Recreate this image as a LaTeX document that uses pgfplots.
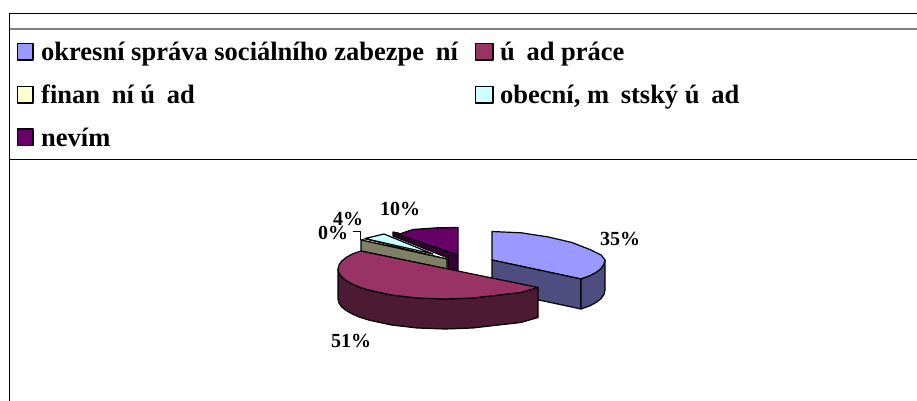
\documentclass[border=0pt]{standalone}
\usepackage{fontspec}
\setmainfont{Liberation Serif}
\usepackage{pgfplots}
\pgfplotsset{compat=1.18}
\definecolor{cBlue}{HTML}{9999FF}\definecolor{cBlueS}{HTML}{4D4D80}
\definecolor{cMar}{HTML}{993366}\definecolor{cMarS}{HTML}{4D1A33}
\definecolor{cYel}{HTML}{FFFFCC}\definecolor{cYelS}{HTML}{808066}
\definecolor{cCya}{HTML}{CCFFFF}
\definecolor{cPur}{HTML}{660066}\definecolor{cPurS}{HTML}{330033}
\newcommand{\leg}[1]{{\fontsize{26.5}{30}\selectfont\bfseries #1}}
\newcommand{\lab}[1]{{\fontsize{20}{24}\selectfont\bfseries #1}}
\begin{document}
\begin{tikzpicture}
\begin{axis}[scale only axis,width=917pt,height=401pt,xmin=0,xmax=917,ymin=0,ymax=401,y dir=reverse,axis line style={draw=none},ticks=none,clip=true,
  every axis plot/.append style={no markers,line join=round}]
% table rules
\addplot[black,line width=1pt] coordinates {(9.5,401)(9.5,13.5)(917,13.5)};
\addplot[black!50,line width=2pt] coordinates {(9.5,29)(917,29)};
\addplot[black,line width=1pt] coordinates {(9.5,159)(917,159)};
% legend keys
\addplot[fill=cBlue,draw=black,line width=1.2pt] coordinates {(17.5,43.5)(33,43.5)(33,60)(17.5,60)} -- cycle;
\addplot[fill=cMar,draw=black,line width=1.2pt] coordinates {(475.5,43.5)(493,43.5)(493,60)(475.5,60)} -- cycle;
\addplot[fill=cYel,draw=black,line width=1.2pt] coordinates {(17.5,86.5)(33,86.5)(33,103)(17.5,103)} -- cycle;
\addplot[fill=cCya,draw=black,line width=1.2pt] coordinates {(475.5,86.5)(493,86.5)(493,103)(475.5,103)} -- cycle;
\addplot[fill=cPur,draw=black,line width=1.2pt] coordinates {(17.5,129)(33,129)(33,145.5)(17.5,145.5)} -- cycle;
% 35% slice
\addplot[fill=cBlue,draw=black,line width=1.2pt] coordinates {(492,260)(492,231.5)(521.2,232.8)(548.5,237)(571.9,242.5)(589.9,249.5)(601.1,255)(605,260)(604,264.3)(601.1,268.6)(596.4,272.3)(589.9,275.8)(581,279)} -- cycle;
\addplot[fill=cBlueS,draw=black,line width=1.2pt] coordinates {(492,260)(581,279)(581,309)(492,290)} -- cycle;
\addplot[fill=cBlueS,draw=black,line width=1.2pt] coordinates {(581,279)(589.9,275.8)(596.4,272.3)(601.1,268.6)(604,264.3)(605,260)(605,290)(604,294.3)(601.1,298.6)(596.4,302.3)(589.9,305.8)(581,309)} -- cycle;
% 10% slice
\addplot[fill=cPurS,draw=black,line width=1.2pt] coordinates {(393,232)(393,236)(448,258)(448,269)(458,272)(458,255)(398,233)} -- cycle;
\addplot[fill=cPur,draw=black,line width=1.2pt] coordinates {(458,255)(458,227.5)(437,227.8)(413,229.5)(398,234.5)} -- cycle;
% 4% slice
\addplot[fill=cCya,draw=black,line width=1.2pt] coordinates {(365,238.5)(384,234)(433,254)} -- cycle;
% 0% slice
\addplot[fill=cYel,draw=black,line width=.8pt] coordinates {(361,240)(365,239)(447,259)} -- cycle;
\addplot[fill=cYelS,draw=black,line width=1.2pt] coordinates {(361,240)(447,259)(447,269)(361,251)} -- cycle;
% 51% slice
\addplot[fill=cMarS,draw=black,line width=1.2pt] coordinates {(538,287.5)(520.7,292.5)(498.5,295)(472.7,298)(445,299)(417.3,298)(391.5,295)(369.3,290.2)(360.1,287.3)(352.3,284)(346.1,280.5)(341.6,276.8)(338.9,272.9)(338,269)(338,299)(338.9,302.9)(341.6,306.8)(346.1,310.5)(352.3,314)(360.1,317.3)(369.3,320.2)(391.5,325)(417.3,328)(445,329)(472.7,328)(498.5,325)(520.7,322.5)(538,317.5)} -- cycle;
\addplot[fill=cMar,draw=black,line width=1.2pt] coordinates {(538,287.5)(360.7,251)(352.3,254)(346.1,257.5)(341.6,261.2)(338.9,265.1)(338,269)(338.9,272.9)(341.6,276.8)(346.1,280.5)(352.3,284)(360.1,287.3)(369.3,290.2)(391.5,295)(417.3,298)(445,299)(472.7,298)(498.5,295)(520.7,292.5)} -- cycle;
% leader
\addplot[black,line width=.6pt] coordinates {(352.7,231)(360,231)(360,240)};
% legend text
\node[anchor=base west,inner sep=0] at (axis cs:41,61) {\leg{okresní správa sociálního zabezpe\hspace{.44em}ní}};
\node[anchor=base west,inner sep=0] at (axis cs:500,61) {\leg{ú\hspace{.44em}ad práce}};
\node[anchor=base west,inner sep=0] at (axis cs:41,103) {\leg{finan\hspace{.44em}ní ú\hspace{.44em}ad}};
\node[anchor=base west,inner sep=0] at (axis cs:500,103) {\leg{obecní, m\hspace{.44em}stský ú\hspace{.44em}ad}};
\node[anchor=base west,inner sep=0] at (axis cs:41,146) {\leg{nevím}};
% data labels
\node[anchor=base west,inner sep=0] at (axis cs:600,245) {\lab{35\%}};
\node[anchor=base west,inner sep=0] at (axis cs:331,347.5) {\lab{51\%}};
\node[anchor=base west,inner sep=0] at (axis cs:318,239) {\lab{0\%}};
\node[anchor=base west,inner sep=0] at (axis cs:333,225.5) {\lab{4\%}};
\node[anchor=base west,inner sep=0] at (axis cs:380,215) {\lab{10\%}};
\end{axis}
\end{tikzpicture}
\end{document}
